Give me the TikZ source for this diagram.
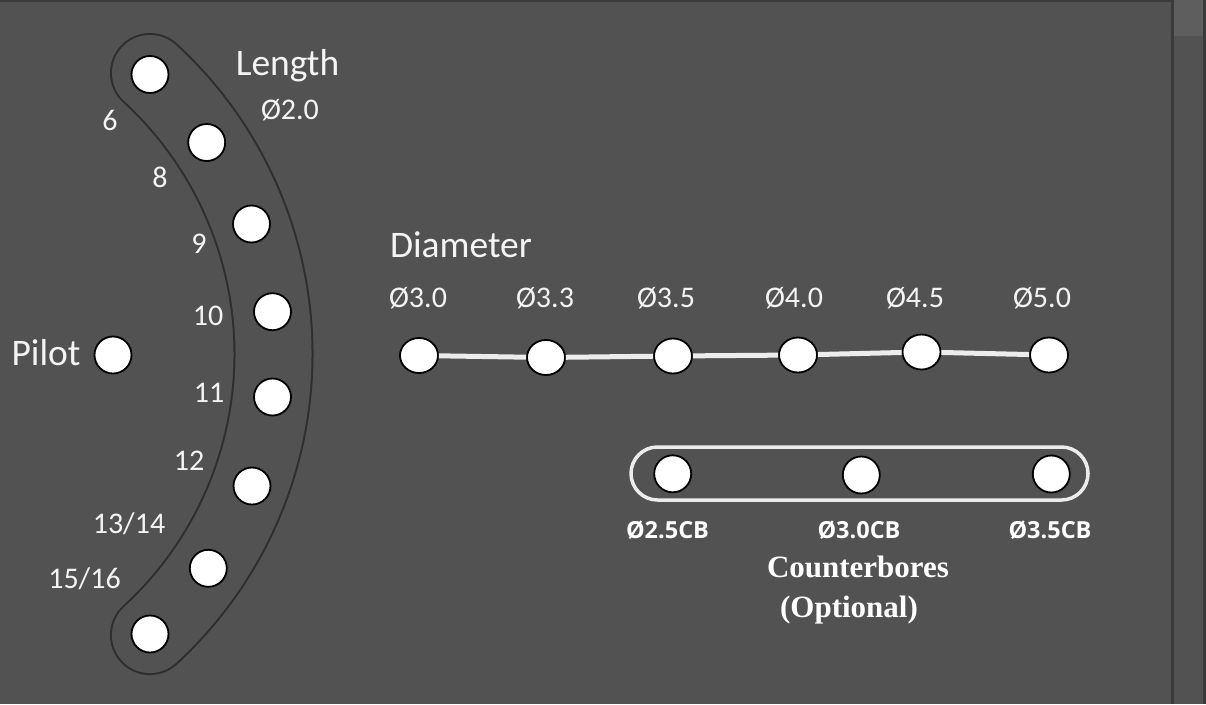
\documentclass[tikz,border=0pt]{standalone}
\usepackage{fontspec}
\setmainfont{Carlito}
\newfontfamily\cbfont{Open Sans}
\newfontfamily\serifb{Liberation Serif}
\usetikzlibrary{shapes.geometric}
\definecolor{bg}{HTML}{525252}
\definecolor{edge}{HTML}{3A3A3A}
\definecolor{thumb}{HTML}{5E5E5E}
\definecolor{bandc}{HTML}{2E2E2E}
\definecolor{labelc}{HTML}{F4F4F4}
\definecolor{linkc}{HTML}{ECECEC}
\begin{document}
\begin{tikzpicture}[x=1pt,y=-1pt,
  hole/.style={circle,draw=black,fill=white,line width=1.8pt,minimum size=37pt,inner sep=0pt},
  rowhole/.style={ellipse,draw=black,fill=white,line width=1.8pt,minimum width=38pt,minimum height=35pt,inner sep=0pt},
  lbl/.style={text=labelc,font=\fontsize{30}{36}\selectfont,inner sep=0pt,anchor=base},
  biglbl/.style={lbl,font=\fontsize{37.5}{44}\selectfont},
  cblbl/.style={text=white,font=\cbfont\bfseries\fontsize{23.5}{28}\selectfont,inner sep=0pt,anchor=base},
  serlbl/.style={text=white,font=\serifb\bfseries\fontsize{31}{36}\selectfont,inner sep=0pt,anchor=base},
  link/.style={draw=linkc,line width=5pt},
  cbframe/.style={draw=linkc,line width=3.5pt,rounded corners=26.5pt}]
\useasboundingbox (0,0) rectangle (1206,704);
% background and window chrome
\fill[bg] (0,0) rectangle (1206,704);
\fill[edge] (0,0) rectangle (1172,2);
\fill[edge] (1171,0) rectangle (1174,704);
\fill[thumb] (1174,0) rectangle (1203,36);
\fill[edge] (1203,0) rectangle (1206,704);
% curved band
\draw[bandc,line width=80pt,line cap=round] (150,73) arc[start angle=-47.45,end angle=47.45,radius=381.5];
\draw[bg,line width=76pt,line cap=round] (150,73) arc[start angle=-47.45,end angle=47.45,radius=381.5];
% length holes
\node[hole] (l6) at (150,74.5) {};
\node[hole] (l8) at (206.7,142.5) {};
\node[hole] (l9) at (251.5,224) {};
\node[hole] (l10) at (272.5,311.7) {};
\node[hole] (l11) at (272.5,397) {};
\node[hole] (l12) at (252,486) {};
\node[hole] (l13) at (208.3,568.3) {};
\node[hole] (l15) at (150,634) {};
\node[hole] (pilot) at (113,355) {};
% length labels
\node[biglbl] (tlength) at (287.5,75) {Length};
\node[lbl] (tl20) at (290,119) {Ø2.0};
\node[lbl] (t6) at (110,130) {6};
\node[lbl] (t8) at (160,187) {8};
\node[lbl] (t9) at (199,253) {9};
\node[lbl] (t10) at (208,325) {10};
\node[lbl] (t11) at (209,402) {11};
\node[lbl] (t12) at (189,470) {12};
\node[lbl] (t13) at (129,533) {13/14};
\node[lbl] (t15) at (84.5,588.5) {15/16};
\node[biglbl] (tpilot) at (46,365) {Pilot};
% diameter row
\node[biglbl] (tdiam) at (461,257) {Diameter};
\node[rowhole] (d1) at (419,355.5) {};
\node[rowhole] (d2) at (546,357.5) {};
\node[rowhole] (d3) at (673,356) {};
\node[rowhole] (d4) at (798,355) {};
\node[rowhole] (d5) at (921.5,352) {};
\node[rowhole] (d6) at (1049,355) {};
\draw[link] (d1) -- (d2);
\draw[link] (d2) -- (d3);
\draw[link] (d3) -- (d4);
\draw[link] (d4) -- (d5);
\draw[link] (d5) -- (d6);
\node[lbl] (td1) at (418,307.5) {Ø3.0};
\node[lbl] (td2) at (545,307.5) {Ø3.3};
\node[lbl] (td3) at (666,307.5) {Ø3.5};
\node[lbl] (td4) at (794,307.5) {Ø4.0};
\node[lbl] (td5) at (915,307.5) {Ø4.5};
\node[lbl] (td6) at (1042,307.5) {Ø5.0};
% counterbores
\draw[cbframe] (631,447) rectangle (1088,500);
\node[hole] (c1) at (672.7,473.8) {};
\node[hole] (c2) at (861.3,475) {};
\node[hole] (c3) at (1051.3,474) {};
\node[cblbl] (tc1) at (667.5,538) {Ø2.5CB};
\node[cblbl] (tc2) at (859,538) {Ø3.0CB};
\node[cblbl] (tc3) at (1050,538) {Ø3.5CB};
\node[serlbl] (tcb) at (858,577) {Counterbores};
\node[serlbl] (topt) at (849,617) {(Optional)};
\end{tikzpicture}
\end{document}
